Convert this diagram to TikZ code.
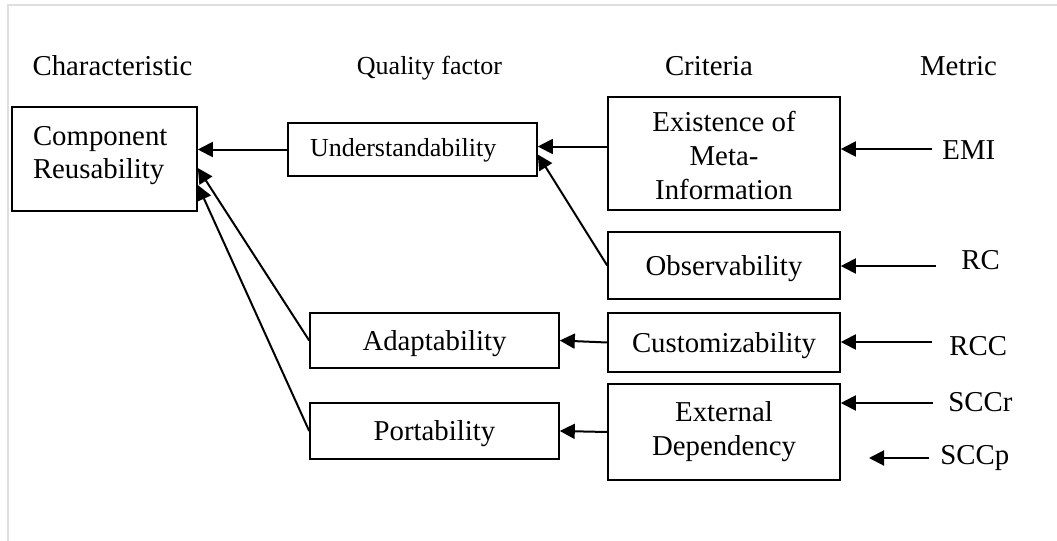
\documentclass[tikz,border=0pt]{standalone}
\usepackage{fontspec}
\setmainfont{Liberation Serif}
\usetikzlibrary{arrows.meta,calc}

\begin{document}
\begin{tikzpicture}
[x=0.5pt,y=-0.5pt,
 box/.style={draw,line width=0.8pt,inner sep=0pt,font=\fontsize{14.4}{17}\selectfont},
 oneline/.style={text height=12.5pt,text depth=3pt},
 small/.style={font=\fontsize{13}{15.6}\selectfont},
 head/.style={anchor=base,inner sep=0pt,font=\fontsize{14.4}{17}\selectfont},
 metric/.style={anchor=base west,inner sep=0pt,font=\fontsize{14.4}{17}\selectfont},
 arr/.style={-{Triangle[length=7.5pt,width=7.5pt]},line width=1pt}]

\useasboundingbox (0,0) rectangle (1057,541);
\draw[gray!25,line width=1pt] (8,541) -- (8,5) -- (1057,5);

\node (hchar) at (112.5,75) [head] {Characteristic};
\node (hqual) at (429.5,74) [head,small] {Quality factor};
\node (hcrit) at (709,75) [head] {Criteria};
\node (hmetr) at (958.5,75) [head] {Metric};

\node (comp) at (104.5,159) [box,font=\fontsize{14.4}{16.5}\selectfont,minimum width=92.5pt,minimum height=52pt,text width=71.5pt,align=left,text height=10pt,text depth=24pt] {Component\\Reusability};

\node (und) at (412.5,149.5) [box,small,minimum width=124.5pt,minimum height=26.5pt,text width=102.5pt,align=left,text height=10.2pt,text depth=3pt] {Understandability};
\node (ada) at (434.5,340.5) [box,oneline,minimum width=124.5pt,minimum height=27.5pt] {Adaptability};
\node (por) at (434.5,431) [box,oneline,minimum width=124.5pt,minimum height=28pt] {Portability};

\begin{scope}
\clip (608,97) rectangle (840,199);
\node (exit) at (724,155.5) [box,draw=none,align=center] {Existence of\\Meta-\\Information};
\end{scope}
\node (exi) at (724,153.5) [box,minimum width=116pt,minimum height=56.5pt] {};
\node (obs) at (724,265.5) [box,oneline,minimum width=116pt,minimum height=33.5pt] {Observability};
\node (cus) at (724,342.5) [box,oneline,minimum width=116pt,minimum height=29.5pt] {Customizability};
\node (ext) at (724,432) [box,minimum width=116pt,minimum height=48pt,align=center] {External\\Dependency};

\node (emi) at (942,159) [metric] {EMI};
\node (rc) at (961,269) [metric] {RC};
\node (rcc) at (949,355) [metric] {RCC};
\node (sccr) at (948,411.7) [metric] {SCCr};
\node (sccp) at (940,464) [metric] {SCCp};

% criteria and factors
\coordinate (und-in1) at ($(und.east)+(0,-3)$);
\coordinate (und-in2) at ($(und.east)+(0,5)$);
\draw[arr] (exi.west |- und-in1) -- (und-in1);
\draw[arr] (obs.west) -- (und-in2);
\draw[arr] (cus.west) -- (ada.east);
\draw[arr] (ext.west) -- (por.east);

\draw[arr] (und.west) -- (und.west -| comp.east);
\draw[arr] (ada.west) -- ($(comp.east)+(0,9)$);
\draw[arr] (por.west) -- ($(comp.east)+(0,26)$);

% metrics
\coordinate (emi-s) at (932,149);
\draw[arr] (emi-s) -- (emi-s -| exi.east);
\coordinate (rc-s) at (936,266);
\draw[arr] (rc-s) -- (rc-s -| obs.east);
\coordinate (rcc-s) at (932,342);
\draw[arr] (rcc-s) -- (rcc-s -| cus.east);
\coordinate (sccr-s) at (933,403);
\draw[arr] (sccr-s) -- (sccr-s -| ext.east);
\coordinate (sccp-s) at (929,458);
\coordinate (sccp-e) at (869,458);
\draw[arr] (sccp-s) -- (sccp-e);
\end{tikzpicture}
\end{document}
